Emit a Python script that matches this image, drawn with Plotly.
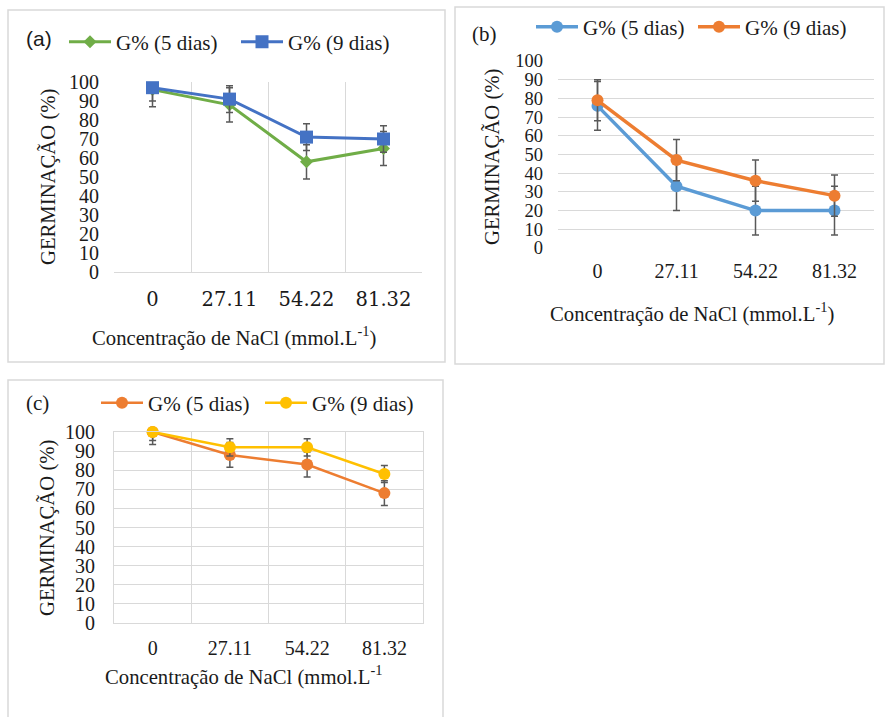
import plotly.graph_objects as go

W, H = 885, 717

categories = ["0", "27.11", "54.22", "81.32"]
y_ticks = list(range(0, 101, 10))

a_g5 = [96, 88, 58, 65]
a_g5_err = [9, 9, 9, 9]
a_g9 = [97, 91, 71, 70]
a_g9_err = [7, 7, 7, 7]

b_g5 = [76, 33, 20, 20]
b_g5_err = [13, 13, 13, 13]
b_g9 = [79, 47, 36, 28]
b_g9_err = [11, 11, 11, 11]

c_g5 = [100, 88, 83, 68]
c_g5_err = [6.5, 6.5, 6.5, 6.5]
c_g9 = [100, 92, 92, 78]
c_g9_err = [4.5, 4.5, 4.5, 4.5]

name5 = "G% (5 dias)"
name9 = "G% (9 dias)"
ytitle = "GERMINAÇÃO (%)"
xtitle = "Concentração de NaCl (mmol.L<sup>-1</sup>)"
xtitle_c = "Concentração de NaCl (mmol.L<sup>-1</sup>"

SERIF = "Liberation Serif"
SANS = "Liberation Sans"
WIDE_SERIF = "DejaVu Serif"
GRID = "#d9d9d9"
ERR = "#595959"
TXT = "#1a1a1a"


def px(x):
    return x / W


def py(y):
    return 1 - y / H


fig = go.Figure()


def add_series(xa, ya, vals, errs, color, symbol, msize, lw, name, legend):
    fig.add_trace(go.Scatter(
        x=categories, y=vals, xaxis=xa, yaxis=ya, name=name, legend=legend,
        mode="lines+markers",
        line=dict(color=color, width=lw),
        marker=dict(color=color, symbol=symbol, size=msize),
        error_y=dict(type="data", array=errs, visible=True, color=ERR,
                     thickness=1.5, width=3.5),
        cliponaxis=False,
    ))


# (a)
add_series("x", "y", a_g5, a_g5_err, "#70AD47", "diamond", 10, 3, name5, "legend")
add_series("x", "y", a_g9, a_g9_err, "#4472C4", "square", 13, 3, name9, "legend")
# (b)
add_series("x2", "y2", b_g5, b_g5_err, "#5B9BD5", "circle", 12, 3.5, name5, "legend2")
add_series("x2", "y2", b_g9, b_g9_err, "#ED7D31", "circle", 12, 3.5, name9, "legend2")
# (c)
add_series("x3", "y3", c_g5, c_g5_err, "#ED7D31", "circle", 12, 2.5, name5, "legend3")
add_series("x3", "y3", c_g9, c_g9_err, "#FFC000", "circle", 12, 2.5, name9, "legend3")


def xaxis(x0, x1, anchor, vgrid, line, boxed, standoff, font):
    return dict(
        domain=[px(x0), px(x1)], anchor=anchor, type="category",
        categoryorder="array", categoryarray=categories,
        range=[-0.5, 3.5], tickson="boundaries", ticks="",
        showgrid=vgrid, gridcolor=GRID, gridwidth=1,
        showline=line, linecolor=GRID, linewidth=1, mirror=boxed,
        tickfont=font, ticklabelstandoff=standoff, zeroline=False,
        fixedrange=True, automargin=False,
    )


def yaxis(y0, y1, anchor, hgrid, leftline, boxed, size):
    return dict(
        domain=[py(y0), py(y1)], anchor=anchor, range=[0, 100],
        tickmode="array", tickvals=y_ticks, ticks="",
        showgrid=hgrid, gridcolor=GRID, gridwidth=1,
        showline=leftline, linecolor=GRID, linewidth=1, mirror=boxed,
        tickfont=dict(family=SERIF, size=size, color=TXT),
        ticklabelstandoff=14, zeroline=False,
        fixedrange=True, automargin=False,
    )


xfont_a = dict(family=WIDE_SERIF, size=19.5, color=TXT)
xfont = dict(family=SERIF, size=20, color=TXT)

legend_common = dict(orientation="h", font=dict(family=SERIF, size=21, color=TXT),
                     bgcolor="rgba(0,0,0,0)", yanchor="middle", xanchor="left",
                     itemclick=False, itemdoubleclick=False, tracegroupgap=0,
                     itemwidth=42, entrywidthmode="pixels")

fig.update_layout(
    width=W, height=H, margin=dict(l=0, r=0, t=0, b=0, autoexpand=False),
    paper_bgcolor="white", plot_bgcolor="white",
    font=dict(family=SERIF, color=TXT),
    xaxis=xaxis(114, 422, "y", True, True, False, 10, xfont_a),
    yaxis=yaxis(272, 82, "x", False, False, False, 20),
    xaxis2=xaxis(558, 874, "y2", False, False, False, 9, xfont),
    yaxis2=yaxis(248, 61, "x2", True, False, False, 18.5),
    xaxis3=xaxis(114, 423, "y3", True, True, True, 7, xfont),
    yaxis3=yaxis(623, 432, "x3", True, True, True, 20),
    legend=dict(x=px(64), y=py(42), entrywidth=115, **legend_common),
    legend2=dict(x=px(531), y=py(27), entrywidth=105, **legend_common),
    legend3=dict(x=px(96), y=py(403), entrywidth=107, **legend_common),
    showlegend=True,
)

# panel borders
fig.add_shape(type="rect", xref="paper", yref="paper", x0=px(8), x1=px(445),
              y0=py(362), y1=py(10), line=dict(color=GRID, width=1.5))
fig.add_shape(type="rect", xref="paper", yref="paper", x0=px(455), x1=px(884),
              y0=py(364), y1=py(7), line=dict(color=GRID, width=1.5))
fig.add_shape(type="path", xref="paper", yref="paper",
              path=f"M {px(8)},{py(720)} L {px(8)},{py(380)} L {px(443)},{py(380)} L {px(443)},{py(720)}",
              line=dict(color=GRID, width=1.5))

# panel letters
fig.add_annotation(text="(a)", x=px(24), y=py(38), xref="paper", yref="paper",
                   xanchor="left", yanchor="middle", showarrow=False,
                   font=dict(family=SANS, size=21, color=TXT))
fig.add_annotation(text="(b)", x=px(470), y=py(34), xref="paper", yref="paper",
                   xanchor="left", yanchor="middle", showarrow=False,
                   font=dict(family=SERIF, size=21, color=TXT))
fig.add_annotation(text="(c)", x=px(24), y=py(403), xref="paper", yref="paper",
                   xanchor="left", yanchor="middle", showarrow=False,
                   font=dict(family=SERIF, size=21, color=TXT))

# axis titles
titlefont = dict(family=SERIF, size=20.7, color=TXT)
for (xc, yc) in [(48, 177), (492, 157), (47, 528)]:
    fig.add_annotation(text=ytitle, x=px(xc), y=py(yc), xref="paper", yref="paper",
                       textangle=-90, showarrow=False, font=titlefont,
                       xanchor="center", yanchor="middle")
for (xc, yc, t) in [(234, 337, xtitle), (692, 312, xtitle), (243, 675, xtitle_c)]:
    fig.add_annotation(text=t, x=px(xc), y=py(yc), xref="paper", yref="paper",
                       showarrow=False, font=titlefont,
                       xanchor="center", yanchor="middle")

fig.write_html("out.html", config={"displayModeBar": False},
               post_script="document.body.style.margin='0';document.body.style.overflow='hidden';")
